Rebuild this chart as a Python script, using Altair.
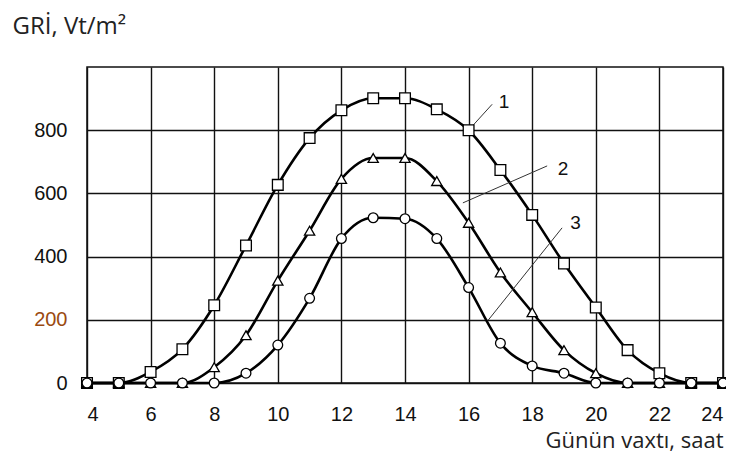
import altair as alt
import pandas as pd

hours = list(range(4, 25))
curve1 = [0, 0, 35, 107, 246, 435, 627, 775, 863, 901, 901, 866, 800, 674, 532, 378, 239, 104, 31, 0, 0]
curve2 = [0, 0, 0, 0, 50, 151, 324, 482, 646, 712, 712, 639, 507, 350, 224, 104, 31, 0, 0, 0, 0]
curve3 = [0, 0, 0, 0, 0, 31, 120, 268, 457, 523, 520, 457, 302, 126, 54, 31, 0, 0, 0, 0, 0]
series_names = ["1", "2", "3"]

x_ticks = [4, 6, 8, 10, 12, 14, 16, 18, 20, 22, 24]
y_ticks = [0, 200, 400, 600, 800]

# leader lines for curve labels (data units)
lab_names = ["1", "2", "3"]
lab_x = [16.0, 15.82, 16.61]
lab_y = [800, 570, 198]
lab_x2 = [16.74, 18.47, 18.94]
lab_y2 = [882, 687, 491]
txt_x = [16.95, 18.8, 19.2]
txt_y = [890, 677, 507]

rows = []
for name, vals in zip(series_names, [curve1, curve2, curve3]):
    for h, v in zip(hours, vals):
        rows.append({"series": name, "hour": h, "value": v})
df = pd.DataFrame(rows)

lab_df = pd.DataFrame({"name": lab_names, "x": lab_x, "y": lab_y, "x2": lab_x2, "y2": lab_y2,
                       "tx": txt_x, "ty": txt_y})

xscale = alt.Scale(domain=[4, 24], nice=False, zero=False)
yscale = alt.Scale(domain=[0, 1000], nice=False)

xaxis = alt.Axis(values=x_ticks, grid=True, gridColor="#111", gridWidth=1.4, gridOpacity=1,
                 domain=False, ticks=False, labelFont="Liberation Sans", labelFontSize=20,
                 labelColor="#111", labelPadding=21, labelBaseline="top",
                 title="Günün vaxtı, saat", titleFont="Open Sans", titleFontSize=22,
                 titleFontWeight="normal", titleColor="#222", titleAnchor="end", titleAlign="right",
                 titleX=636, titleY=64, titleBaseline="alphabetic")
yaxis = alt.Axis(values=y_ticks, grid=True, gridColor="#111", gridWidth=1.4, gridOpacity=1,
                 domain=False, ticks=False, labelFont="Liberation Sans", labelFontSize=20,
                 labelColor={"expr": "datum.value == 200 ? '#9a4a10' : '#111'"},
                 labelPadding=20, labelBaseline="middle",
                 title="GRİ, Vt/m²", titleFont="Open Sans", titleFontSize=24,
                 titleFontWeight="normal", titleColor="#222", titleAngle=0, titleAlign="left",
                 titleX=-75, titleY=-34, titleBaseline="alphabetic")

base = alt.Chart(df)
lines = base.mark_line(interpolate="monotone", color="black", strokeWidth=2.6).encode(
    x=alt.X("hour:Q", scale=xscale, axis=xaxis),
    y=alt.Y("value:Q", scale=yscale, axis=yaxis),
    detail="series:N",
)
points = base.mark_point(filled=True, fill="white", stroke="black", strokeWidth=1.3, opacity=1).encode(
    x=alt.X("hour:Q", scale=xscale),
    y=alt.Y("value:Q", scale=yscale),
    shape=alt.Shape("series:N", scale=alt.Scale(domain=series_names,
                                                range=["square", "triangle-up", "circle"]), legend=None),
    size=alt.Size("series:N", scale=alt.Scale(domain=series_names, range=[115, 95, 90]), legend=None),
)
leaders = alt.Chart(lab_df).mark_rule(color="#333", strokeWidth=1).encode(
    x=alt.X("x:Q", scale=xscale), y=alt.Y("y:Q", scale=yscale),
    x2="x2:Q", y2="y2:Q",
)
labels = alt.Chart(lab_df).mark_text(font="Liberation Sans", fontSize=19, color="#111",
                                     align="left", baseline="middle").encode(
    x=alt.X("tx:Q", scale=xscale), y=alt.Y("ty:Q", scale=yscale), text="name:N",
)

chart = alt.layer(lines, leaders, points, labels).properties(
    width=636, height=316,
    autosize=alt.AutoSizeParams(type="none"),
    padding={"left": 79, "top": 59, "right": 3, "bottom": 72},
    background="white",
).configure_view(stroke="#111", strokeWidth=1.5)

chart.save("out.html", embed_options={"renderer": "svg", "actions": False})
